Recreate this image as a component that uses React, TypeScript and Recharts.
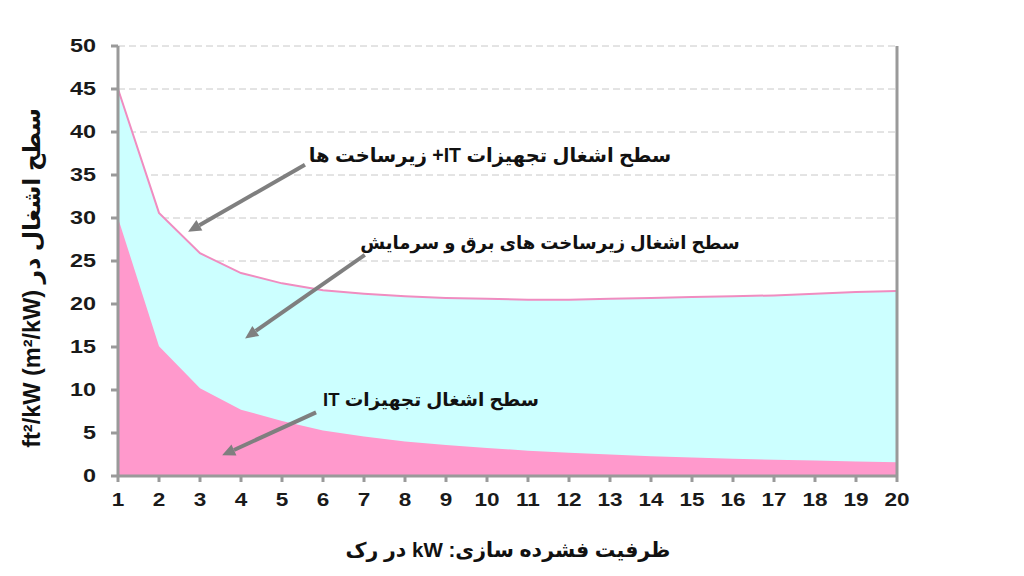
import React from "react";
import { ComposedChart, Area, XAxis, YAxis, CartesianGrid, ReferenceLine } from "recharts";

const rackDensity = [1, 2, 3, 4, 5, 6, 7, 8, 9, 10, 11, 12, 13, 14, 15, 16, 17, 18, 19, 20];
const totalArea = [45, 30.6, 25.9, 23.6, 22.4, 21.6, 21.2, 20.9, 20.7, 20.6, 20.5, 20.5, 20.6, 20.7, 20.8, 20.9, 21.0, 21.2, 21.4, 21.5];
const itArea = [30, 15.1, 10.2, 7.7, 6.4, 5.3, 4.6, 4.0, 3.6, 3.25, 2.95, 2.7, 2.5, 2.3, 2.15, 2.0, 1.9, 1.8, 1.7, 1.6];
const leftTicks = [0, 5, 10, 15, 20, 25, 30, 35, 40, 45, 50];
const rightTickLabels = ["", "[0.46]", "[0.93]", "[1.39]", "[1.86]", "[2.32]", "[2.79]", "[3.25]", "[3.72]", "[4.18]", "[4.65]"];

const data = rackDensity.map((x, i) => ({ x, total: totalArea[i], it: itArea[i] }));

const arrows = [
  [{ x: 5.56, y: 36.2 }, { x: 2.71, y: 28.4 }],
  [{ x: 7.02, y: 25.7 }, { x: 4.1, y: 16.0 }],
  [{ x: 5.83, y: 7.4 }, { x: 3.54, y: 2.4 }],
];

const FONT = "'Liberation Sans', 'DejaVu Sans', Arial, sans-serif";

const ArrowShape = (p: any) => {
  const { x1, y1, x2, y2 } = p;
  if ([x1, y1, x2, y2].some((v) => typeof v !== "number" || isNaN(v))) return null;
  const ang = Math.atan2(y2 - y1, x2 - x1);
  const len = 13;
  const w = 6;
  const bx = x2 - len * Math.cos(ang);
  const by = y2 - len * Math.sin(ang);
  const px = -Math.sin(ang) * w;
  const py = Math.cos(ang) * w;
  return (
    <g>
      <line x1={x1} y1={y1} x2={bx} y2={by} stroke="#7f7f7f" strokeWidth={4} />
      <polygon points={`${x2},${y2} ${bx + px},${by + py} ${bx - px},${by - py}`} fill="#7f7f7f" />
    </g>
  );
};

const makeTick = (fontSize: number, scaleX: number, anchor: "end" | "middle", dy: string) => (props: any) => {
  const { x, y, payload } = props;
  return (
    <g transform={`translate(${x},${y})`}>
      <text
        transform={`scale(${scaleX},1)`}
        textAnchor={anchor}
        dy={dy}
        fill="#1a1a1a"
        fontSize={fontSize}
        fontWeight="bold"
        fontFamily={FONT}
      >
        {payload.value}
      </text>
    </g>
  );
};

const LeftTick = makeTick(18, 1.3, "end", "0.36em");
const BottomTick = makeTick(18.5, 1.22, "middle", "0.72em");

const textStyle: React.CSSProperties = {
  position: "absolute",
  fontFamily: FONT,
  fontWeight: "bold",
  color: "#111",
  whiteSpace: "nowrap",
  direction: "rtl",
  transform: "translate(-50%, -50%)",
};

export default function App() {
  return (
    <div style={{ position: "absolute", left: 0, top: 0, width: 1024, height: 576, background: "#fff" }}>
      <ComposedChart width={1024} height={576} data={data} margin={{ top: 46, right: 47, left: 58, bottom: 60 }}>
        <CartesianGrid yAxisId="left" vertical={false} stroke="#c8c8c8" strokeDasharray="7 4" />
        <XAxis
          dataKey="x"
          type="number"
          domain={[1, 20]}
          ticks={rackDensity}
          height={40}
          stroke="#9a9a9a"
          strokeWidth={3}
          tickSize={6}
          tickMargin={11}
          tick={BottomTick}
        />
        <YAxis
          yAxisId="left"
          domain={[0, 50]}
          ticks={leftTicks}
          width={60}
          stroke="#9a9a9a"
          strokeWidth={3}
          tickSize={7}
          tickMargin={15}
          tick={LeftTick}
        />
        <YAxis
          yAxisId="right"
          orientation="right"
          domain={[0, 50]}
          ticks={leftTicks}
          tickFormatter={(v: number) => rightTickLabels[leftTicks.indexOf(v)] ?? ""}
          width={80}
          stroke="#9a9a9a"
          strokeWidth={3}
          tickSize={6}
          tickMargin={9}
          tick={{ fill: "#1a1a1a", fontSize: 16, fontWeight: "bold", fontFamily: FONT }}
        />
        <Area
          yAxisId="left"
          type="linear"
          dataKey="total"
          stroke="#f08cc0"
          strokeWidth={2}
          fill="#ccffff"
          fillOpacity={1}
          isAnimationActive={false}
          dot={false}
          activeDot={false}
        />
        <Area
          yAxisId="left"
          type="linear"
          dataKey="it"
          stroke="none"
          fill="#ff99cc"
          fillOpacity={1}
          isAnimationActive={false}
          dot={false}
          activeDot={false}
        />
        {arrows.map((seg, i) => (
          <ReferenceLine key={i} yAxisId="left" segment={seg} ifOverflow="visible" shape={ArrowShape} />
        ))}
      </ComposedChart>
      <div style={{ ...textStyle, left: 490, top: 155, fontSize: 19.5 }}>سطح اشغال تجهیزات IT+ زیرساخت ها</div>
      <div style={{ ...textStyle, left: 550, top: 243, fontSize: 18 }}>سطح اشغال زیرساخت های برق و سرمایش</div>
      <div style={{ ...textStyle, left: 431, top: 400, fontSize: 18.5 }}>سطح اشغال تجهیزات IT</div>
      <div style={{ ...textStyle, left: 508, top: 550, fontSize: 20.5 }}>ظرفیت فشرده سازی: kW در رک</div>
      <div style={{ ...textStyle, left: 32, top: 278, fontSize: 23.5, transform: "translate(-50%, -50%) rotate(-90deg)" }}>
        سطح اشغال در ft²/kW (m²/kW)
      </div>
    </div>
  );
}
